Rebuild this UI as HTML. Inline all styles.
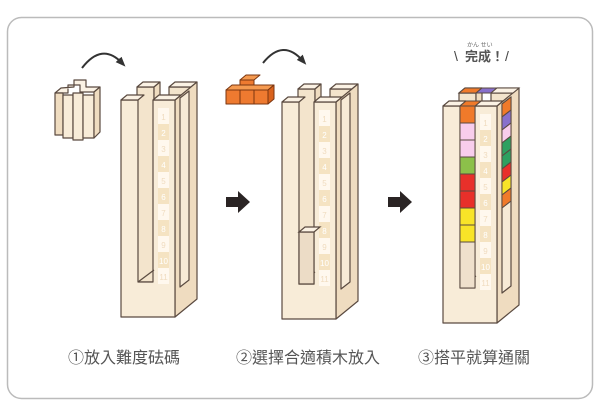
<!DOCTYPE html>
<html><head><meta charset="utf-8"><style>
html,body{margin:0;padding:0;background:#fff;}
svg{display:block}
text{font-family:"Liberation Sans","Noto Sans CJK TC",sans-serif}
</style></head><body>
<svg width="600" height="410" viewBox="0 0 600 410" xmlns="http://www.w3.org/2000/svg">
<defs>
<g id="tw" stroke="#5a4a40" stroke-width="1.2" stroke-linejoin="round">
  <!-- back left prong -->
  <rect x="16" y="-13" width="17" height="195" fill="#f3e4cc"/>
  <polygon points="16,-13 33,-13 39,-18 22,-18" fill="#fbf2e4"/>
  <polygon points="33,-13 39,-18 39,178 33,182" fill="#efdcc0"/>
  <!-- back right prong -->
  <rect x="48" y="-13" width="22" height="195" fill="#f3e4cc"/>
  <polygon points="48,-13 70,-13 76,-18 54,-18" fill="#fbf2e4"/>
  <!-- side face -->
  <polygon points="54,0 76,-18 76,199 54,217" fill="#efdcc0"/>
  <polygon points="59,-2 68,-9 68,180 59,187" fill="#f7ead6"/>
  <!-- front face -->
  <path d="M0,0 H17 V182 H32 V0 H54 V217 H0 Z" fill="#f8ecd8"/>
  <line x1="17" y1="182" x2="33" y2="170"/>
  <!-- front caps -->
  <polygon points="0,0 17,0 23,-5 6,-5" fill="#fbf2e4"/>
  <polygon points="32,0 54,0 60,-5 38,-5" fill="#fbf2e4"/>
  <!-- number column -->
  <g stroke="none">
    <rect x="37" y="8" width="11" height="176" fill="#fff8ee"/>
    <rect x="37" y="24" width="11" height="16" fill="#f5e3c2"/>
    <rect x="37" y="56" width="11" height="16" fill="#f5e3c2"/>
    <rect x="37" y="88" width="11" height="16" fill="#f5e3c2"/>
    <rect x="37" y="120" width="11" height="16" fill="#f5e3c2"/>
    <rect x="37" y="152" width="11" height="16" fill="#f5e3c2"/>
  </g>
  <g stroke="none" fill="#fff" font-size="8" text-anchor="middle" font-family="Liberation Sans,sans-serif">
    <text x="42.5" y="20" fill="#f0dcc0">1</text><text x="42.5" y="36">2</text><text x="42.5" y="52" fill="#f0dcc0">3</text>
    <text x="42.5" y="68">4</text><text x="42.5" y="84" fill="#f0dcc0">5</text><text x="42.5" y="100">6</text>
    <text x="42.5" y="116" fill="#f0dcc0">7</text><text x="42.5" y="132">8</text><text x="42.5" y="148" fill="#f0dcc0">9</text>
    <text x="42.5" y="164">10</text><text x="42.5" y="180" fill="#f0dcc0">11</text>
  </g>
</g>
<marker id="ah" markerUnits="userSpaceOnUse" markerWidth="10" markerHeight="10" refX="5" refY="5" orient="auto">
  <path d="M0,1 L10,5 L0,9 Z" fill="#333"/>
</marker>
</defs>

<rect x="7.5" y="17.5" width="585" height="381" rx="14" fill="#fff" stroke="#bbb" stroke-width="1.5"/>

<!-- curved arrows -->
<path d="M82,68 Q102,42 122,63" fill="none" stroke="#333" stroke-width="2" marker-end="url(#ah)"/>
<path d="M263,63 Q283,38 303,61" fill="none" stroke="#333" stroke-width="2" marker-end="url(#ah)"/>

<!-- cross piece -->
<g stroke="#5a4a40" stroke-width="1.2" fill="#f8ecd8" stroke-linejoin="round">
  <polygon points="55,93 68,93 68,85 80,85 80,92 94,92 100,87 86,87 86,80 74,80 74,87 61,88" fill="#fbf2e4"/>
  <rect x="55" y="93" width="8" height="42" fill="#efdcc0"/>
  <rect x="63" y="95" width="10" height="43"/>
  <rect x="73" y="93" width="10" height="47"/>
  <rect x="83" y="95" width="11" height="43"/>
  <polygon points="94,92 100,87 100,132 94,138" fill="#efdcc0"/>
</g>

<!-- orange piece -->
<g stroke="#7a3510" stroke-width="1" stroke-linejoin="round">
  <polygon points="226,90 268,90 274,85 232,85" fill="#f59a50"/>
  <rect x="240" y="80" width="14" height="5" fill="#ee7a30"/>
  <polygon points="240,80 254,80 260,75 246,75" fill="#f59a50"/>
  <rect x="226" y="90" width="14" height="14" fill="#ee7a30"/>
  <rect x="240" y="90" width="14" height="14" fill="#ee7a30"/>
  <rect x="254" y="90" width="14" height="14" fill="#ee7a30"/>
  <polygon points="268,90 274,85 274,99 268,104" fill="#d9621c"/>
</g>

<!-- towers -->
<use href="#tw" transform="translate(121,100)"/>
<use href="#tw" transform="translate(282,102)"/>
<g stroke="#5a4a40" stroke-width="1.2">
  <polygon points="299,284 314,284 314,232 299,232" fill="#ecdcc6"/>
  <polygon points="299,232 314,232 320,227 305,227" fill="#fbf2e4"/>
</g>

<use href="#tw" transform="translate(443,106)"/>
<g stroke="#5a4a40" stroke-width="1">
  <rect x="460" y="106" width="15" height="17" fill="#f07a2a"/>
  <rect x="460" y="123" width="15" height="17" fill="#f8cdec"/>
  <rect x="460" y="140" width="15" height="17" fill="#f8cdec"/>
  <rect x="460" y="157" width="15" height="17" fill="#8cc04a"/>
  <rect x="460" y="174" width="15" height="17" fill="#e8302a"/>
  <rect x="460" y="191" width="15" height="17" fill="#e8302a"/>
  <rect x="460" y="208" width="15" height="17" fill="#f8e428"/>
  <rect x="460" y="225" width="15" height="17" fill="#f8e428"/>
  <rect x="460" y="242" width="15" height="46" fill="#efe0cc"/>
  <polygon points="502,104 511,97 511,110 502,117" fill="#f07a2a"/>
  <polygon points="502,117 511,110 511,123 502,130" fill="#8870cc"/>
  <polygon points="502,130 511,123 511,136 502,143" fill="#f8cdec"/>
  <polygon points="502,143 511,136 511,149 502,156" fill="#2ea060"/>
  <polygon points="502,156 511,149 511,162 502,169" fill="#2ea060"/>
  <polygon points="502,169 511,162 511,175 502,182" fill="#e8302a"/>
  <polygon points="502,182 511,175 511,188 502,195" fill="#f8e428"/>
  <polygon points="502,195 511,188 511,201 502,208" fill="#f07a2a"/>
  <polygon points="460,106 475,106 481,101 466,101" fill="#f07a2a"/>
  <polygon points="459,93 476,93 482,88 465,88" fill="#f07a2a"/>
  <polygon points="476,93 491,93 497,88 482,88" fill="#8870cc"/>
  <polygon points="491,93 513,93 519,88 497,88" fill="#fbf2e4"/>
</g>

<!-- straight arrows -->
<path d="M226,197 H238 V191 L250,202 L238,213 V207 H226 Z" fill="#2a2424"/>
<path d="M388,197 H400 V191 L412,202 L400,213 V207 H388 Z" fill="#2a2424"/>

<!-- complete text -->
<text x="467" y="47" font-size="6" fill="#666">かん  せい</text>
<text x="454" y="61" font-size="14" fill="#444">\</text>
<text x="465" y="61" font-size="13" font-weight="bold" fill="#555">完成！</text>
<text x="505" y="61" font-size="14" fill="#444">/</text>

<!-- labels -->
<g font-size="16" fill="#555">
  <text x="68" y="363">①放入難度砝碼</text>
  <text x="236" y="363">②選擇合適積木放入</text>
  <text x="418" y="363">③搭平就算通關</text>
</g>
</svg>
</body></html>
